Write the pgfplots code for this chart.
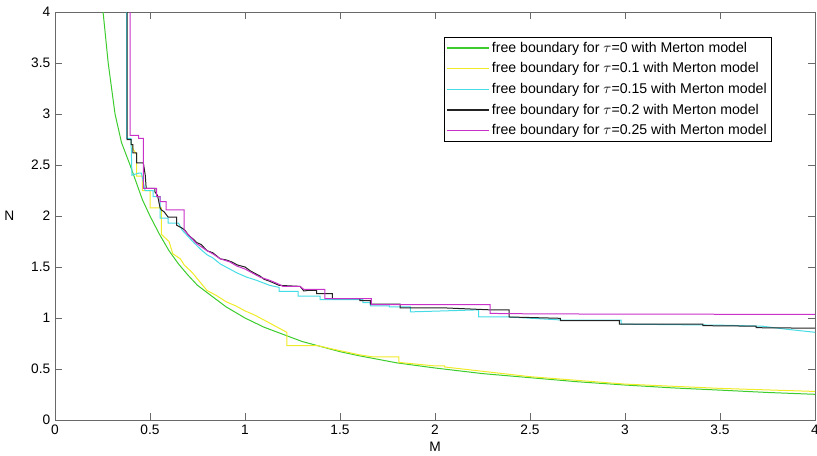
\documentclass[border=0pt]{standalone}
\usepackage{fontspec}
\setmainfont{Liberation Sans}
\usepackage{pgfplots}
\pgfplotsset{compat=1.18}
\definecolor{colG}{RGB}{60,205,45}
\definecolor{colY}{RGB}{240,235,40}
\definecolor{colC}{RGB}{70,220,230}
\definecolor{colK}{RGB}{35,35,35}
\definecolor{colM}{RGB}{200,50,200}
\definecolor{axgray}{RGB}{105,105,105}
\begin{document}
\begin{tikzpicture}
\path[use as bounding box] (-41.25pt,-26.25pt) rectangle (571.5pt,315pt);
\begin{axis}[
  scale only axis, width=570pt, height=306pt,
  at={(0pt,0pt)}, anchor=south west,
  xmin=0, xmax=4, ymin=0, ymax=4,
  xtick={0,0.5,1,1.5,2,2.5,3,3.5,4},
  ytick={0,0.5,1,1.5,2,2.5,3,3.5,4},
  tick align=inside, major tick length=5pt,
  axis line style={axgray, line width=0.75pt},
  tick style={axgray, line width=0.6pt},
  /pgf/number format/assume math mode=true,
  tick label style={font=\fontsize{10.3}{12}\selectfont, black},
  label style={font=\fontsize{10.3}{12}\selectfont},
  xlabel={M}, ylabel={N},
  xlabel style={at={(axis description cs:0.5,0)}, anchor=north, yshift=-16pt, inner sep=0pt},
  ylabel style={at={(axis description cs:-0.06,0.5)}, anchor=center, rotate=-90, inner sep=0pt},
  legend style={at={(0.943,0.939)}, anchor=north east, draw=black, line width=0.5pt,
    font=\fontsize{10.6}{12}\selectfont, cells={anchor=west}, inner sep=1.5pt, row sep=2.3pt},
  legend image code/.code={\draw[#1, line width=0.9pt] plot coordinates {(0pt,0pt) (16pt,0pt) (31pt,0pt)};},
  every axis plot/.append style={line width=0.75pt},
]
\addplot[colG] coordinates {
(0.253,4.0) (0.28,3.5) (0.316,3.0) (0.35,2.72) (0.395,2.5) (0.46,2.16) (0.50,2.0)
(0.55,1.82) (0.60,1.66) (0.65,1.53) (0.70,1.42) (0.75,1.32) (0.80,1.25) (0.90,1.11)
(1.00,1.00) (1.10,0.91) (1.20,0.84) (1.30,0.77) (1.40,0.72) (1.50,0.67) (1.60,0.63)
(1.80,0.56) (2.00,0.51) (2.25,0.455) (2.50,0.415) (2.75,0.375) (3.00,0.343)
(3.25,0.315) (3.50,0.293) (3.75,0.27) (4.00,0.252)};
\addlegendentry{free boundary for $\tau$=0 with Merton model}
\addplot[colY] coordinates {
(0.40,2.73) (0.41,2.66) (0.43,2.60) (0.43,2.39) (0.46,2.39) (0.46,2.25) (0.50,2.25)
(0.50,2.08) (0.56,2.08) (0.56,1.82) (0.60,1.75) (0.62,1.63) (0.66,1.58) (0.68,1.52)
(0.72,1.45) (0.76,1.36) (0.80,1.27) (0.85,1.22) (0.90,1.16) (0.95,1.12) (1.00,1.07)
(1.05,1.03) (1.10,0.98) (1.15,0.93) (1.20,0.88) (1.22,0.86) (1.22,0.73) (1.38,0.73)
(1.45,0.70) (1.60,0.64) (1.67,0.62) (1.81,0.62) (1.81,0.565) (2.00,0.53) (2.05,0.53)
(2.05,0.52) (2.50,0.425) (3.00,0.352) (3.50,0.31) (4.00,0.28)};
\addlegendentry{free boundary for $\tau$=0.1 with Merton model}
\addplot[colC] coordinates {
(0.377,4.0) (0.377,2.76) (0.40,2.76) (0.405,2.40) (0.44,2.42) (0.455,2.42) (0.474,2.25)
(0.516,2.25) (0.516,2.19) (0.553,2.19) (0.553,1.98) (0.595,1.98) (0.595,1.93)
(0.65,1.93) (0.67,1.86) (0.70,1.80) (0.73,1.74) (0.763,1.68) (0.80,1.62) (0.83,1.59)
(0.87,1.53) (0.92,1.48) (0.96,1.44) (1.01,1.40) (1.06,1.37) (1.13,1.32) (1.18,1.30)
(1.18,1.26) (1.28,1.26) (1.28,1.215) (1.395,1.215) (1.395,1.18) (1.62,1.18)
(1.62,1.15) (1.66,1.15) (1.66,1.12) (1.76,1.12) (1.76,1.11) (1.87,1.11) (1.87,1.06)
(2.23,1.08) (2.23,1.01) (2.39,1.01) (2.67,0.98) (2.98,0.98) (2.98,0.94) (3.50,0.93)
(3.72,0.92) (3.85,0.89) (4.00,0.86)};
\addlegendentry{free boundary for $\tau$=0.15 with Merton model}
\addplot[colK] coordinates {
(0.38,4.0) (0.38,2.75) (0.40,2.75) (0.40,2.70) (0.41,2.70) (0.41,2.62) (0.43,2.62)
(0.43,2.52) (0.465,2.52) (0.475,2.40) (0.48,2.27) (0.525,2.27) (0.525,2.24)
(0.54,2.20) (0.553,2.08) (0.56,2.06) (0.575,2.04) (0.595,1.99) (0.64,1.99) (0.64,1.91)
(0.67,1.88) (0.684,1.86) (0.70,1.82) (0.71,1.80) (0.73,1.77) (0.745,1.74) (0.77,1.72)
(0.80,1.66) (0.83,1.64) (0.87,1.58) (0.90,1.57) (0.93,1.55) (0.96,1.52) (1.00,1.50)
(1.03,1.46) (1.08,1.41) (1.10,1.38) (1.13,1.36) (1.18,1.32) (1.29,1.31) (1.31,1.265)
(1.33,1.27) (1.377,1.27) (1.377,1.24) (1.46,1.24) (1.46,1.19) (1.605,1.19)
(1.605,1.17) (1.66,1.17) (1.66,1.135) (1.816,1.135) (1.816,1.10) (2.04,1.10)
(2.29,1.08) (2.39,1.08) (2.39,1.01) (2.66,0.997) (2.66,0.975) (2.97,0.975)
(2.97,0.94) (3.41,0.94) (3.41,0.925) (3.69,0.92) (3.69,0.905) (4.00,0.90)};
\addlegendentry{free boundary for $\tau$=0.2 with Merton model}
\addplot[colM] coordinates {
(0.396,4.0) (0.396,2.79) (0.44,2.79) (0.44,2.76) (0.465,2.76) (0.465,2.27) (0.535,2.27)
(0.535,2.19) (0.553,2.19) (0.553,2.14) (0.585,2.14) (0.585,2.06) (0.68,2.06)
(0.68,1.86) (0.71,1.80) (0.745,1.73) (0.80,1.66) (0.83,1.63) (0.87,1.58) (0.92,1.55)
(0.956,1.51) (1.00,1.48) (1.03,1.45) (1.08,1.40) (1.13,1.37) (1.18,1.33) (1.20,1.31)
(1.29,1.31) (1.31,1.28) (1.42,1.28) (1.42,1.19) (1.665,1.19) (1.665,1.13) (2.29,1.13)
(2.29,1.045) (2.55,1.04) (4.00,1.035)};
\addlegendentry{free boundary for $\tau$=0.25 with Merton model}
\end{axis}
\end{tikzpicture}
\end{document}
